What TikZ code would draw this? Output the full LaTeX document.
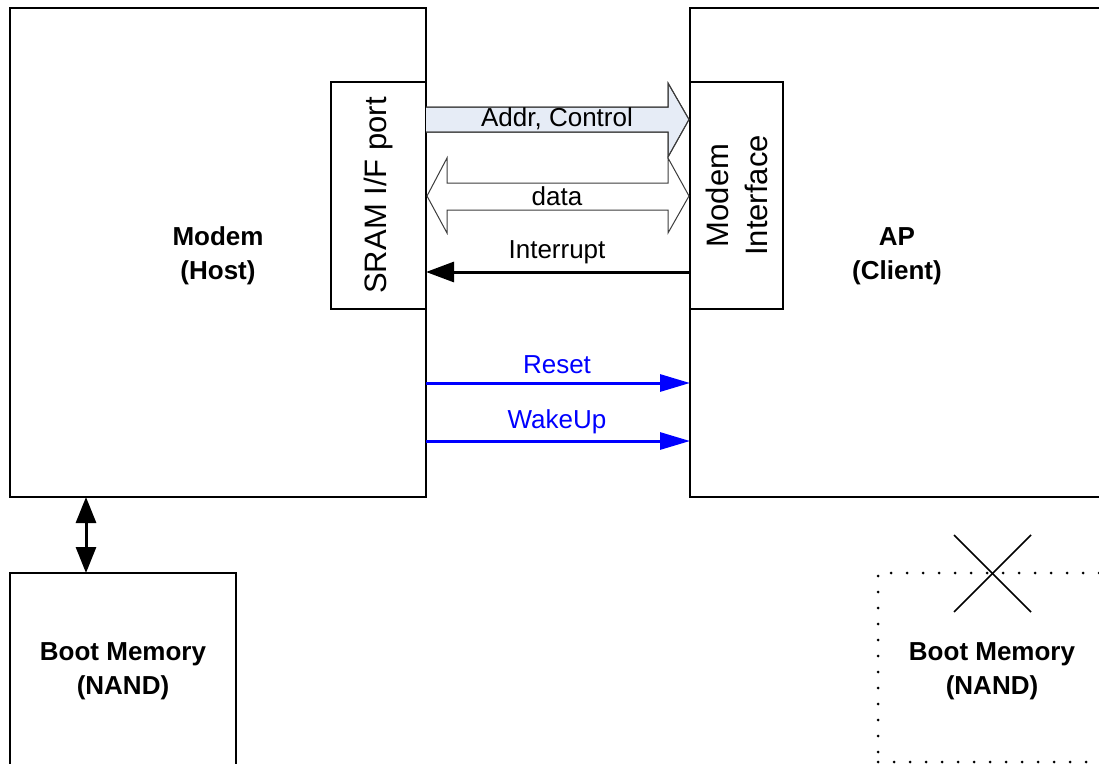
\documentclass[tikz,border=0pt]{standalone}
\usepackage{fontspec}
\setmainfont{Liberation Sans}
\usetikzlibrary{arrows.meta}
\definecolor{addrfill}{RGB}{230,236,246}
\definecolor{fatline}{RGB}{60,60,60}
\begin{document}
\begin{tikzpicture}[x=1pt,y=-1pt,
  box/.style={draw=black, line width=2pt, rectangle, anchor=north west, inner sep=0pt, outer sep=0pt},
  dotbox/.style={draw=black, line width=3pt, line cap=round, dash pattern=on 0pt off 16pt, rectangle, anchor=north west, inner sep=0pt, outer sep=0pt},
  lbl/.style={font=\fontsize{26}{34}\selectfont\bfseries, align=center, inner sep=0pt},
  sig/.style={font=\fontsize{26}{30}\selectfont, inner sep=0pt},
  rot/.style={font=\fontsize{31}{39}\selectfont, align=center, rotate=90, inner sep=0pt},
  fat/.style={draw=fatline, line width=1pt, line join=miter},
  bluearr/.style={draw=blue, line width=3pt, -{Triangle[width=17pt,length=30pt]}},
  blkarr/.style={draw=black, line width=3pt, -{Triangle[width=20pt,length=28pt]}},
  dblarr/.style={draw=black, line width=3pt, {Triangle[width=20pt,length=26pt]}-{Triangle[width=20pt,length=26pt]}}
]
\clip (0,0) rectangle (1099,763);
\fill[white] (0,0) rectangle (1099,763);

% main boxes
\node[box, minimum width=416pt, minimum height=489pt] (modem) at (10,8) {};
\node[box, minimum width=440pt, minimum height=489pt] (ap) at (690,8) {};
\node[box, fill=white, minimum width=95pt, minimum height=227pt] (sram) at (331,82) {};
\node[box, fill=white, minimum width=93pt, minimum height=227pt] (ifc) at (690,82) {};
\node[box, minimum width=226pt, minimum height=210pt] (bootl) at (10,573) {};
\node[dotbox, minimum width=240pt, minimum height=189pt] (bootr) at (878,573) {};

% labels in boxes
\node[lbl] (modemlbl) at (218,256) {Modem\\(Host)};
\node[lbl] (aplbl) at (897,256) {AP\\(Client)};
\node[lbl] (bootllbl) at (123,671) {Boot Memory\\(NAND)};
\node[lbl] (bootrlbl) at (992,671) {Boot Memory\\(NAND)};
\node[rot] (sramlbl) at (sram.center) {SRAM I/F port};
\node[rot] (ifclbl) at (ifc.center) {Modem\\Interface};

% fat arrows
\path[fat, fill=addrfill] (426,107) -- (668,107) -- (668,83) -- (689,119.5) -- (668,157) -- (668,132) -- (426,132);
\draw[fat] (426,107) -- (668,107) -- (668,83) -- (689,119.5) -- (668,157) -- (668,132) -- (426,132);
\path[fat, fill=white] (427,196) -- (447,158) -- (447,183) -- (668,183) -- (668,158) -- (689,196) -- (668,233) -- (668,210) -- (447,210) -- (447,233) -- cycle;
\node[sig] (addr) at (557,119) {Addr, Control};
\node[sig] (data) at (557,196) {data};

% interrupt
\coordinate (intA) at (ifc.west |- {(0,272)});
\coordinate (intB) at (sram.east |- {(0,272)});
\draw[blkarr] (intA) -- (intB);
\node[sig] (intlbl) at (557,252) {Interrupt};

% blue signals
\coordinate (rstA) at (modem.east |- {(0,383)});
\coordinate (rstB) at (ap.west |- {(0,383)});
\draw[bluearr] (rstA) -- (rstB);
\node[sig, text=blue] (rstlbl) at (557,365) {Reset};
\coordinate (wkA) at (modem.east |- {(0,441)});
\coordinate (wkB) at (ap.west |- {(0,441)});
\draw[bluearr] (wkA) -- (wkB);
\node[sig, text=blue] (wklbl) at (557,422) {WakeUp};

% modem <-> boot memory
\coordinate (mb1) at (modem.south -| {(86,0)});
\coordinate (mb2) at (bootl.north -| {(86,0)});
\draw[dblarr] (mb1) -- (mb2);

% cross over right boot memory
\coordinate (x1) at (954,535);
\coordinate (x2) at (1031,612);
\coordinate (x3) at (1031,535);
\coordinate (x4) at (954,612);
\draw[line width=1.5pt] (x1) -- (x2);
\draw[line width=1.5pt] (x3) -- (x4);
\end{tikzpicture}
\end{document}
